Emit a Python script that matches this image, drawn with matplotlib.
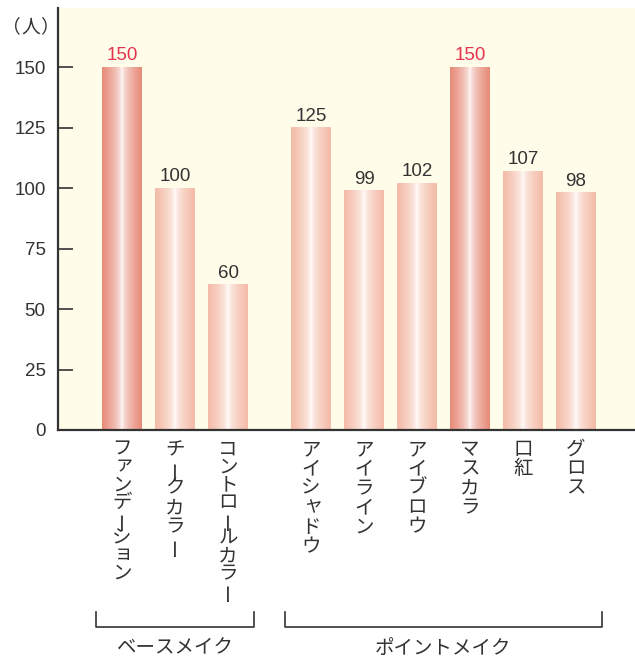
import numpy as np
import matplotlib.pyplot as plt
from matplotlib.colors import to_rgb

# data
categories = ['ファンデーション', 'チークカラー', 'コントロールカラー',
              'アイシャドウ', 'アイライン', 'アイブロウ', 'マスカラ', '口紅', 'グロス']
values = [150, 100, 60, 125, 99, 102, 150, 107, 98]
groups = ['ベースメイク', 'ポイントメイク']
group_sizes = [3, 6]
yticks = [0, 25, 50, 75, 100, 125, 150]
unit_label = '（人）'

# colors
bg = '#FFFCE9'
dark = '#333333'
red = '#E6334D'
edge_hi = '#E78A78'
edge_lo = '#F4BBA7'

plt.rcParams['font.family'] = ['Liberation Sans', 'Noto Sans CJK JP']
jp = ['Noto Sans CJK JP', 'DejaVu Sans']

# bar positions with a gap between groups
gap = 0.566
xpos = []
p = 0
for n in group_sizes:
    for i in range(n):
        xpos.append(p)
        p += 1
    p += gap

fig = plt.figure(figsize=(6.35, 6.61), dpi=100)
ax = fig.add_axes([58 / 635, 231 / 661, 577 / 635, 422 / 661])
ax.set_facecolor(bg)

# gradient bars
width = 0.74
u = np.linspace(0, 1, 200)
t = np.abs(u - 0.5) * 2
w = t ** 0.55
vmax = max(values)
for x, v in zip(xpos, values):
    edge = np.array(to_rgb(edge_hi if v == vmax else edge_lo))
    grad = (1 - w)[:, None] * np.ones(3) + w[:, None] * edge
    ax.imshow(grad[None, :, :], extent=(x - width / 2, x + width / 2, 0, v),
              aspect='auto', zorder=2)
    ax.annotate(str(v), xy=(x, v), xytext=(0, 2), textcoords='offset points',
                ha='center', va='bottom', fontsize=13.5,
                color=red if v == vmax else dark)

ax.set_xlim(-1.2075, 9.679)
ax.set_ylim(0, 174.4)

# axes styling
for s in ['top', 'right']:
    ax.spines[s].set_visible(False)
ax.spines['left'].set_color(dark)
ax.spines['bottom'].set_color(dark)
ax.spines['left'].set_linewidth(1.6)
ax.spines['bottom'].set_linewidth(1.6)
ax.set_yticks(yticks)
ax.tick_params(axis='y', direction='in', length=11, width=1.2, color=dark,
               labelsize=13.5, labelcolor=dark, pad=9)
ax.set_xticks([])

# unit label, characters spread out as in the original
for ch, px in zip(unit_label, [11, 31, 49]):
    ax.text((px - 58) / 577, (430 - 27) / 422, ch, transform=ax.transAxes,
            ha='center', va='center', fontsize=13.5, color=dark, family=jp)

# vertical category labels, one character at a time
small = 'ァィゥェォャュョッ'
trans = ax.get_xaxis_transform()
axh = 422.0
for x, name in zip(xpos, categories):
    pitch = 19.4 if len(name) <= 6 else 17.7  # px
    for i, ch in enumerate(name):
        off = 19.5 + pitch * i
        dx, dy, rot = 0, 0, 0
        if ch == 'ー':
            rot = 90
        if ch in small:
            dx, dy = 2, 2
        ax.text(x + dx / 53, -(off - dy) / axh, ch, transform=trans, ha='center',
                va='center', rotation=rot, fontsize=14, color=dark, family=jp)

# group brackets
start = 0
for g, n in zip(groups, group_sizes):
    x0 = xpos[start] - 0.49
    x1 = xpos[start + n - 1] + 0.49
    yb = -197 / axh
    yt = -182 / axh
    ax.plot([x0, x0, x1, x1], [yt, yb, yb, yt], transform=trans, color=dark,
            lw=1.2, clip_on=False)
    ax.text((x0 + x1) / 2, -218 / axh, g, transform=trans, ha='center', va='center',
            fontsize=14, color=dark, family=jp)
    start += n

fig.savefig('out.png', dpi=100)
